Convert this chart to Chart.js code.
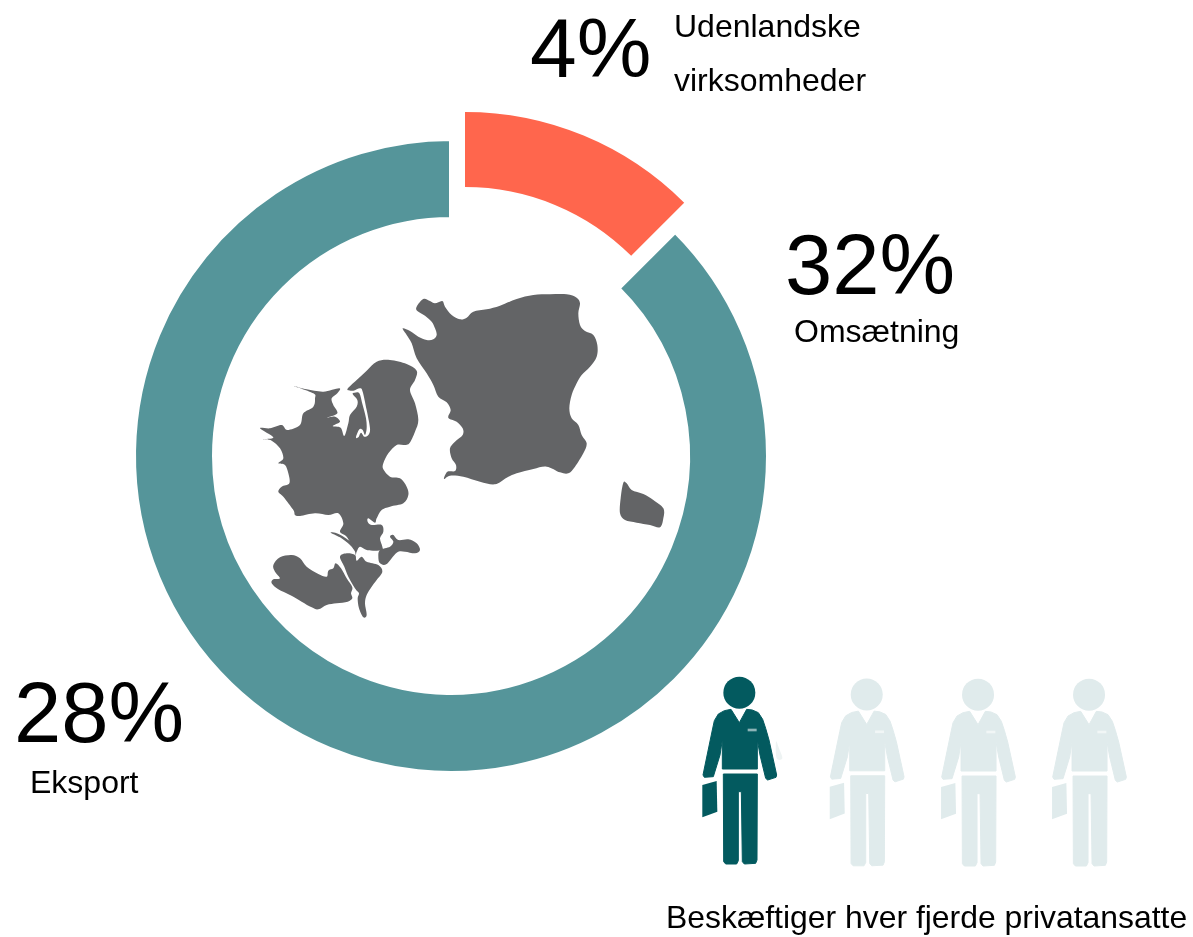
<!DOCTYPE html>
<html>
<head>
<meta charset="utf-8">
<title>Udenlandske virksomheder</title>
<script src="https://cdn.jsdelivr.net/npm/chart.js@4"></script>
<style>
    html, body { margin: 0; padding: 0; background: #fff; }
    #wrap { position: relative; width: 1193px; height: 937px; overflow: hidden; }
    #donut { position: absolute; left: 0; top: 0; }
    #art { position: absolute; left: 0; top: 0; }
    .txt { position: absolute; font-family: "Liberation Sans", Arial, sans-serif; color: #000; line-height: 1; white-space: nowrap; }
</style>
</head>
<body>
<div id="wrap">
    <canvas id="donut" width="1193" height="937"></canvas>
    <svg id="art" width="1193" height="937" xmlns="http://www.w3.org/2000/svg"></svg>
</div>
<script>
// -------------------
// DATA
// -------------------
const sliceLabels = ['Udenlandske virksomheder', 'Omsætning og eksport'];
const sliceShares = [12.5, 87.5];
const sliceColors = ['#ff664d', '#55959a'];

const textItems = [
    ['4%', 530, 77, 84],
    ['Udenlandske', 674, 37, 32],
    ['virksomheder', 674, 91, 32],
    ['32%', 785, 294, 85],
    ['Omsætning', 794, 342, 32],
    ['28%', 14, 742, 85],
    ['Eksport', 30, 793, 32],
    ['Beskæftiger hver fjerde privatansatte', 666, 929, 31.9],
];

// map outlines, traced at 3x
const sjaelland = [[8,130],[30,138],[55,155],[80,165],[100,163],[110,150],[105,130],[95,110],[75,92],[52,78],[50,65],[70,42],[90,48],[105,55],[127,48],[135,65],[155,90],[180,103],[200,98],[220,80],[260,73],[300,62],[350,42],[400,30],[450,28],[500,28],[530,38],[540,55],[535,85],[540,120],[555,138],[580,150],[592,180],[590,215],[570,245],[545,270],[530,295],[515,330],[508,370],[515,400],[535,420],[545,450],[560,475],[550,505],[525,545],[505,565],[480,562],[440,545],[400,552],[350,565],[320,578],[285,598],[240,590],[190,575],[150,572],[132,582],[142,560],[165,558],[168,540],[155,520],[150,490],[165,470],[188,450],[188,430],[170,410],[145,398],[152,375],[140,352],[115,335],[100,300],[80,265],[50,220],[35,175],[20,150]];
const jylland = [[132,108],[170,118],[220,125],[268,115],[262,130],[245,145],[250,165],[262,190],[232,203],[255,200],[270,215],[248,228],[272,233],[283,258],[295,220],[300,195],[320,170],[322,150],[308,132],[314,128],[328,130],[338,165],[348,205],[350,235],[345,255],[338,240],[328,238],[318,262],[325,262],[333,248],[343,260],[355,255],[360,235],[350,180],[338,125],[330,115],[310,122],[292,118],[320,90],[350,62],[380,35],[420,30],[470,42],[500,62],[495,90],[480,120],[495,160],[505,210],[495,245],[478,280],[462,285],[440,285],[415,310],[400,340],[400,358],[420,380],[450,385],[470,410],[475,435],[460,460],[420,470],[395,480],[380,505],[375,518],[355,505],[353,515],[365,525],[395,525],[400,545],[390,565],[397,590],[397,600],[375,602],[350,600],[330,590],[320,605],[317,615],[313,600],[290,560],[270,545],[280,520],[265,490],[235,495],[195,490],[150,498],[135,495],[130,480],[100,440],[85,425],[95,410],[118,400],[115,370],[105,345],[85,340],[100,325],[90,295],[65,272],[40,268],[70,262],[30,235],[60,235],[95,225],[112,240],[150,225],[160,190],[190,170],[195,145],[190,130]];
const strip = [[197,98],[215,100],[240,113],[268,135],[270,152],[255,135],[225,112]];
const fynLeft = [[25,195],[45,172],[80,165],[105,175],[125,200],[160,222],[185,230],[190,212],[205,205],[212,190],[228,205],[245,235],[262,262],[258,280],[262,295],[248,305],[215,310],[185,315],[160,328],[140,322],[110,305],[75,285],[40,268],[20,250],[25,238],[45,235],[30,215]];
const fynRight = [[225,170],[245,160],[270,165],[275,182],[290,170],[305,185],[340,195],[352,215],[335,240],[320,260],[305,285],[300,310],[305,345],[295,352],[282,325],[278,295],[282,280],[272,268],[250,230],[238,200]];
const neIsland = [[345,150],[375,140],[385,125],[375,110],[385,105],[400,120],[430,118],[455,130],[465,150],[450,160],[420,155],[395,158],[365,192],[345,190],[340,170]];
const bornholm = [[40,38],[50,40],[65,60],[100,72],[130,90],[160,115],[160,145],[150,172],[120,165],[80,158],[45,150],[30,130],[32,85]];

// person icon, traced at 3x
const torso = [[108,118],[133,158],[155,118],[172,120],[190,128],[203,148],[212,175],[222,210],[245,315],[243,322],[218,330],[212,325],[195,255],[187,210],[187,297],[82,297],[82,210],[75,255],[55,320],[28,322],[24,315],[52,180],[58,152],[70,132],[88,122]];
const legs = [[85,312],[187,312],[186,570],[182,580],[148,582],[142,575],[139,365],[130,365],[130,572],[125,582],[92,582],[86,575]];
const bag = [[22,345],[65,333],[67,425],[22,442]];
const pocket = [[158,176],[185,176],[185,184],[158,184]];
const ghost = [[243,215],[252,235],[262,265],[245,265]];

// -------------------
// SVG ART
// -------------------
const art = document.getElementById('art');
const NS = 'http://www.w3.org/2000/svg';

function add(parent, name, attrs) {
    const el = document.createElementNS(NS, name);
    for (const k in attrs) el.setAttribute(k, attrs[k]);
    parent.appendChild(el);
    return el;
}

// closed catmull-rom through the traced points
function smoothPath(pts) {
    const n = pts.length;
    let d = 'M' + pts[0][0] + ' ' + pts[0][1];
    for (let i = 0; i < n; i++) {
        const p0 = pts[(i - 1 + n) % n], p1 = pts[i], p2 = pts[(i + 1) % n], p3 = pts[(i + 2) % n];
        const c1x = p1[0] + (p2[0] - p0[0]) / 6, c1y = p1[1] + (p2[1] - p0[1]) / 6;
        const c2x = p2[0] - (p3[0] - p1[0]) / 6, c2y = p2[1] - (p3[1] - p1[1]) / 6;
        d += 'C' + c1x + ' ' + c1y + ' ' + c2x + ' ' + c2y + ' ' + p2[0] + ' ' + p2[1];
    }
    return d + 'Z';
}

function polyPath(pts) {
    return 'M' + pts.map(p => p[0] + ' ' + p[1]).join('L') + 'Z';
}

function shapeGroup(x, y, shapes) {
    const g = add(art, 'g', { transform: `translate(${x} ${y}) scale(${1 / 3})`, fill: '#636466' });
    shapes.forEach(s => add(g, 'path', { d: smoothPath(s) }));
}

shapeGroup(400, 285, [sjaelland]);
shapeGroup(250, 350, [jylland]);
shapeGroup(265, 500, [strip, fynLeft, fynRight, neIsland]);
shapeGroup(610, 470, [bornholm]);

function person(x, y, color) {
    const g = add(art, 'g', { transform: `translate(${x} ${y}) scale(${1 / 3})`, fill: color });
    add(g, 'circle', { cx: 133, cy: 68, r: 48 });
    add(g, 'path', { d: polyPath(torso), stroke: color, 'stroke-width': 3, 'stroke-linejoin': 'round' });
    add(g, 'path', { d: polyPath(legs), stroke: color, 'stroke-width': 3, 'stroke-linejoin': 'round' });
    add(g, 'path', { d: polyPath(bag) });
    add(g, 'path', { d: polyPath(pocket), fill: '#fff', opacity: 0.55 });
    return g;
}

const darkPerson = person(695, 670, '#035a5f');
add(darkPerson, 'path', { d: smoothPath(ghost), fill: '#eef3f3' });
person(822.4, 671.8, '#e0ebec');
person(933.7, 672, '#e0ebec');
person(1044.7, 672, '#e0ebec');

// -------------------
// TEXT
// -------------------
const wrap = document.getElementById('wrap');
textItems.forEach(function (t) {
    const span = document.createElement('span');
    span.className = 'txt';
    span.textContent = t[0];
    span.style.left = t[1] + 'px';
    span.style.top = (t[2] - 0.8465 * t[3]) + 'px';
    span.style.fontSize = t[3] + 'px';
    wrap.appendChild(span);
});

// -------------------
// CHART
// -------------------
// pulls the first slice out of the ring, the way the original has it
const explodeSlice = {
    id: 'explodeSlice',
    afterDatasetsUpdate(chart) {
        const arc = chart.getDatasetMeta(0).data[0];
        arc.x += 14;
        arc.y -= 34;
        arc.outerRadius = 310;
        arc.innerRadius = 235;
    },
};

new Chart(document.getElementById('donut').getContext('2d'), {
    type: 'doughnut',
    data: {
        labels: sliceLabels,
        datasets: [{
            data: sliceShares,
            backgroundColor: sliceColors,
            borderColor: '#ffffff',
            borderWidth: [0, 4],
            borderJoinStyle: 'miter',
        }],
    },
    options: {
        responsive: false,
        animation: false,
        radius: 317,
        cutout: 235.5,
        layout: {
            padding: { left: 134, right: 425, top: 139, bottom: 164 },
        },
        plugins: {
            legend: { display: false },
            tooltip: { enabled: false },
        },
    },
    plugins: [explodeSlice],
});
</script>
</body>
</html>
